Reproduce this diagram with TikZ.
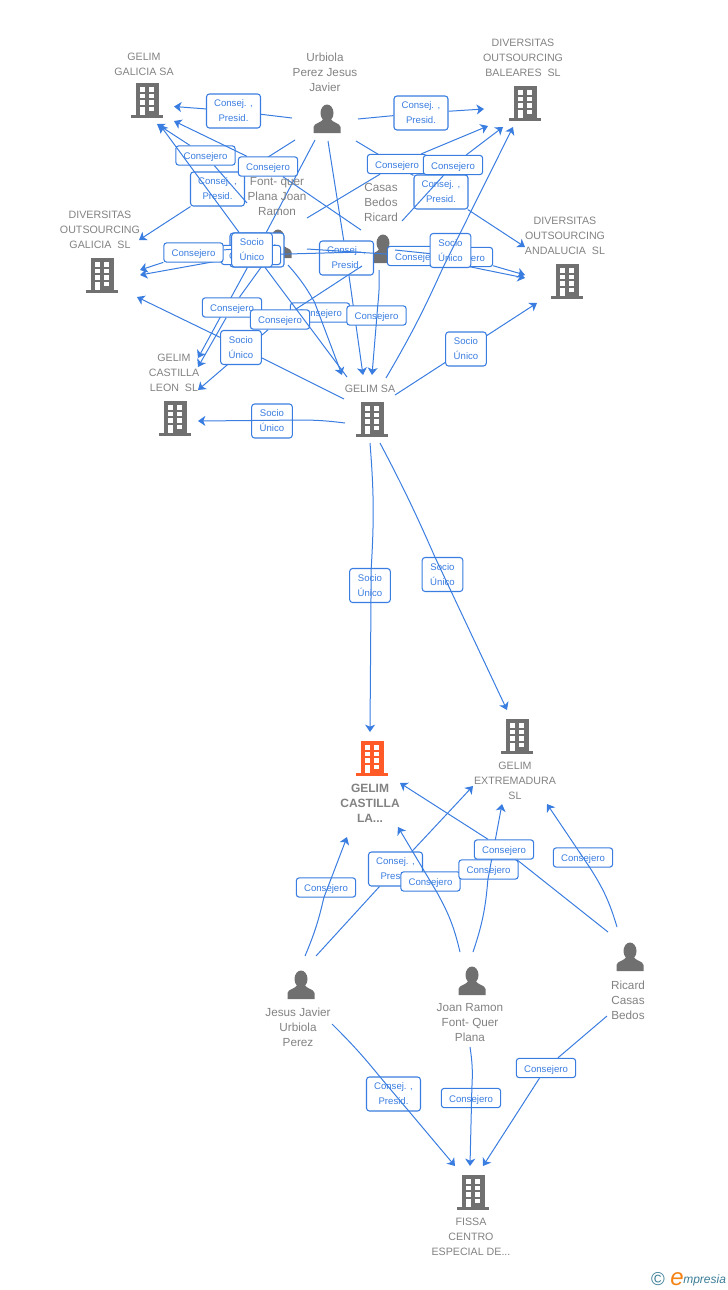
\documentclass[tikz,border=0pt]{standalone}
\usepackage{fontspec}
\setmainfont{Liberation Sans}
\usetikzlibrary{arrows.meta}
\definecolor{linkblue}{RGB}{58,125,224}
\definecolor{labgray}{RGB}{130,130,130}
\definecolor{icongray}{RGB}{112,112,112}
\definecolor{maincol}{RGB}{255,90,40}
\definecolor{logoteal}{RGB}{60,125,150}
\definecolor{logoorange}{RGB}{245,130,20}
\tikzset{
  bld/.pic = {
    \fill[pic actions] (-11.5,-17) rectangle (11.5,15.5);
    \fill[pic actions] (-16,15) rectangle (16,17.5);
    \foreach \wy in {-13,-6.5,0} {
      \fill[white] (-7.3,\wy) rectangle ++(5,4.5);
      \fill[white] (2.3,\wy) rectangle ++(5,4.5);
    }
    \fill[white] (-7.3,6.5) rectangle (-2.3,15);
    \fill[white] (2.3,6.5) rectangle (7.3,11);
  },
  person/.pic = {
    \fill[icongray] (0,-6) ellipse (6.5 and 8.5);
    \fill[icongray] (-13.5,14) -- (-13.5,8) .. controls (-13,4) and (-6,4) .. (-3.5,0)
      -- (3.5,0) .. controls (6,4) and (13,4) .. (13.5,8) -- (13.5,14) -- cycle;
  },
  conse/.style = {draw=linkblue, fill=white, line width=0.8pt, rounded corners=2.2pt,
    text=linkblue, align=center, inner sep=0pt, minimum width=44.5pt, minimum height=14.5pt,
    font=\fontsize{7.2}{11.25}\selectfont, execute at begin node={\rule{0pt}{7.5pt}}},
  presid/.style = {conse, minimum width=40.5pt, minimum height=25.5pt},
  socio/.style = {conse, minimum width=30.5pt, minimum height=25.5pt},
  rel/.style = {draw=linkblue, line width=0.75pt, -{Stealth[length=5.5pt,width=7.5pt,inset=1.5pt]}},
  comp/.style = {text=labgray, align=center, inner sep=0pt, yshift=-0.75pt,
    font=\fontsize{8}{11.25}\selectfont},
  pers/.style = {comp, font=\fontsize{8.8}{11.25}\selectfont},
  mainlab/.style = {comp, font=\bfseries\fontsize{9}{11.25}\selectfont}
}
\begin{document}
\begin{tikzpicture}[x=0.75pt,y=-0.75pt]
  \useasboundingbox (0,0) rectangle (728,1290);
  % icons
  \pic[fill=icongray] (galicia) at (147,100) {bld};
  \pic[fill=icongray] (baleares) at (525,103) {bld};
  \pic[fill=icongray] (divgal) at (102,275) {bld};
  \pic[fill=icongray] (andalucia) at (567,281) {bld};
  \pic[fill=icongray] (leon) at (175,418) {bld};
  \pic[fill=icongray] (gelimsa) at (372,419) {bld};
  \pic[fill=maincol] (mancha) at (372,758) {bld};
  \pic[fill=icongray] (extrem) at (517,736) {bld};
  \pic[fill=icongray] (fissa) at (473,1192) {bld};
  \pic (urbiola) at (327,119) {person};
  \pic (fontq) at (278,244) {person};
  \pic (casas) at (383,249) {person};
  \pic (jesus) at (301,985) {person};
  \pic (joan) at (472,981) {person};
  \pic (ricard) at (630,957) {person};

  % free ends of the links
  \coordinate (uA1) at (292,118); \coordinate (uB1) at (174,106.5);
  \coordinate (uA2) at (358,119); \coordinate (uB2) at (484,109);
  \coordinate (uA3) at (295,140); \coordinate (uB3) at (139,240);
  \coordinate (uA4) at (315,140); \coordinate (uB4) at (198,358);
  \coordinate (uA5) at (356,141); \coordinate (uB5) at (525,247);
  \coordinate (uA6) at (328,141); \coordinate (uB6) at (363,375);
  \coordinate (fA1) at (247,203); \coordinate (fB1) at (157,124);
  \coordinate (fA2) at (258,247); \coordinate (fB2) at (140,270);
  \coordinate (fA3) at (262,266); \coordinate (fB3) at (198,367);
  \coordinate (fA4) at (307,218); \coordinate (fB4) at (488,126);
  \coordinate (fA5) at (307,249); \coordinate (fB5) at (525,278);
  \coordinate (fA6) at (288,265); \coordinate (fB6) at (342,375);
  \coordinate (cA1) at (361,230); \coordinate (cB1) at (174,121);
  \coordinate (cA2) at (361,252); \coordinate (cB2) at (140,275);
  \coordinate (cA3) at (362,266); \coordinate (cB3) at (198,390);
  \coordinate (cA4) at (402,221); \coordinate (cB4) at (503,127);
  \coordinate (cA5) at (395,250); \coordinate (cB5) at (525,275);
  \coordinate (cA6) at (379,270); \coordinate (cB6) at (372,375);
  \coordinate (sA1) at (347,377); \coordinate (sB1) at (160,125);
  \coordinate (sA2) at (344,399); \coordinate (sB2) at (137,297);
  \coordinate (sA3) at (345,423); \coordinate (sB3) at (198,421);
  \coordinate (sA4) at (386,378); \coordinate (sB4) at (513,127);
  \coordinate (sA5) at (395,395); \coordinate (sB5) at (537,303);
  \coordinate (sA6) at (370,443); \coordinate (sB6) at (370,732);
  \coordinate (sA7) at (380,443); \coordinate (sB7) at (507,710);
  \coordinate (jA1) at (305,956); \coordinate (jB1) at (347,837);
  \coordinate (jA2) at (316,956); \coordinate (jB2) at (473,786);
  \coordinate (jA3) at (332,1024); \coordinate (jB3) at (455,1166);
  \coordinate (oA1) at (460,952); \coordinate (oB1) at (398,827);
  \coordinate (oA2) at (473,952); \coordinate (oB2) at (502,804);
  \coordinate (oA3) at (470,1047); \coordinate (oB3) at (470,1166);
  \coordinate (rA1) at (608,932); \coordinate (rB1) at (400,783);
  \coordinate (rA2) at (617,927); \coordinate (rB2) at (547,804);
  \coordinate (rA3) at (607,1016); \coordinate (rB3) at (483,1166);

  % Urbiola
  \node[presid] (ub1) at (233.5,111) {Consej. ,\\Presid.};
  \draw[rel] (uA1) -- (ub1) -- (uB1);
  \node[presid] (ub2) at (421,113) {Consej. ,\\Presid.};
  \draw[rel] (uA2) -- (ub2) -- (uB2);
  \node[presid] (ub3) at (217.5,189) {Consej. ,\\Presid.};
  \draw[rel] (uA3) -- (ub3) -- (uB3);
  \node[presid] (ub4) at (257,250) {Consej. ,\\Presid.};
  \draw[rel] (uA4) -- (ub4) -- (uB4);
  \node[presid] (ub5) at (441,192) {Consej. ,\\Presid.};
  \draw[rel] (uA5) -- (ub5) -- (uB5);
  \node[presid] (ub6) at (346.5,258) {Consej. ,\\Presid.};
  \draw[rel] (uA6) -- (ub6) -- (uB6);
  % Casas, to Diversitas Galicia
  \node[conse] (ca2) at (251,255) {Consejero};
  \draw[rel] (cA2) -- (ca2) -- (cB2);
  % Font- quer
  \node[conse] (fq1) at (205.5,155.5) {Consejero};
  \draw[rel] (fA1) -- (fq1) -- (fB1);
  \node[conse] (fq2) at (193.5,252.5) {Consejero};
  \draw[rel] (fA2) -- (fq2) -- (fB2);
  \node[conse] (fq3) at (232,307.5) {Consejero};
  \draw[rel] (fA3) -- (fq3) -- (fB3);
  \node[conse] (fq4) at (397,164) {Consejero};
  \draw[rel] (fA4) -- (fq4) -- (fB4);
  \node[conse] (fq5) at (417,256) {Consejero};
  \draw[rel] (fA5) -- (fq5) -- (fB5);
  \node[conse] (fq6) at (320,312.5) {Consejero};
  \draw[rel] (fA6) to[bend left=6] (fq6) -- (fB6);
  % Casas
  \node[conse] (ca1) at (268,166.5) {Consejero};
  \draw[rel] (cA1) -- (ca1) -- (cB1);
  \node[conse] (ca3) at (280,319.5) {Consejero};
  \draw[rel] (cA3) -- (ca3) -- (cB3);
  \node[conse] (ca4) at (453,165) {Consejero};
  \draw[rel] (cA4) -- (ca4) -- (cB4);
  \node[conse] (ca5) at (463,257) {Consejero};
  \draw[rel] (cA5) -- (ca5) -- (cB5);
  \node[conse] (ca6) at (376.5,315.5) {Consejero};
  \draw[rel] (cA6) to[bend left=4] (ca6) -- (cB6);
  % Gelim SA
  \node[socio] (sa1) at (252,250) {Socio\\Único};
  \draw[rel] (sA1) -- (sa1) -- (sB1);
  \node[socio] (sa2) at (241,347.5) {Socio\\Único};
  \draw[rel] (sA2) -- (sa2) -- (sB2);
  \node[socio] (sa3) at (272,421) {Socio\\Único};
  \draw[rel] (sA3) to[bend right=4] (sa3) -- (sB3);
  \node[socio] (sa4) at (450.5,250.5) {Socio\\Único};
  \draw[rel] (sA4) to[bend right=3] (sa4) -- (sB4);
  \node[socio] (sa5) at (466,349) {Socio\\Único};
  \draw[rel] (sA5) -- (sa5) -- (sB5);
  \node[socio] (sa6) at (370,585.5) {Socio\\Único};
  \draw[rel] (sA6) to[bend left=4] (sa6) -- (sB6);
  \node[socio] (sa7) at (442.5,574.5) {Socio\\Único};
  \draw[rel] (sA7) to[bend left=2] (sa7) -- (sB7);
  % Jesus
  \node[conse] (je1) at (326,887.5) {Consejero};
  \draw[rel] (jA1) to[bend right=5] (je1) -- (jB1);
  \node[presid] (je2) at (395.5,869) {Consej. ,\\Presid.};
  \draw[rel] (jA2) -- (je2) -- (jB2);
  \node[presid] (je3) at (393.5,1094) {Consej. ,\\Presid.};
  \draw[rel] (jA3) to[bend left=3] (je3) -- (jB3);
  % Joan
  \node[conse] (jo1) at (430.5,881.5) {Consejero};
  \draw[rel] (oA1) to[bend right=8] (jo1) -- (oB1);
  \node[conse] (jo2) at (488.5,869.5) {Consejero};
  \draw[rel] (oA2) to[bend right=7] (jo2) -- (oB2);
  \node[conse] (jo3) at (471,1098) {Consejero};
  \draw[rel] (oA3) to[bend left=6] (jo3) -- (oB3);
  % Ricard
  \node[conse] (ri1) at (504,849.5) {Consejero};
  \draw[rel] (rA1) -- (ri1) -- (rB1);
  \node[conse] (ri2) at (583,857.5) {Consejero};
  \draw[rel] (rA2) to[bend right=8] (ri2) -- (rB2);
  \node[conse] (ri3) at (546,1068) {Consejero};
  \draw[rel] (rA3) -- (ri3) -- (rB3);

  % labels
  \node[comp] (tgalicia) at (144,63) {GELIM\\GALICIA SA};
  \node[comp] (tbaleares) at (523,57) {DIVERSITAS\\OUTSOURCING\\BALEARES\ \ SL};
  \node[comp] (tdivgal) at (100,229) {DIVERSITAS\\OUTSOURCING\\GALICIA\ \ SL};
  \node[comp] (tandalucia) at (565,235) {DIVERSITAS\\OUTSOURCING\\ANDALUCIA\ \ SL};
  \node[comp] (tleon) at (174,372) {GELIM\\CASTILLA\\LEON\ \ SL};
  \node[comp] (tgelimsa) at (370,388) {GELIM SA};
  \node[mainlab] (tmancha) at (370,802) {GELIM\\CASTILLA\\LA...};
  \node[comp] (textrem) at (515,780) {GELIM\\EXTREMADURA\\SL};
  \node[comp] (tfissa) at (471,1236) {FISSA\\CENTRO\\ESPECIAL DE...};
  \node[pers] (turbiola) at (325,71) {Urbiola\\Perez Jesus\\Javier};
  \node[pers] (tfontq) at (277,196) {Font- quer\\Plana Joan\\Ramon};
  \node[pers] (tcasas) at (381,201) {Casas\\Bedos\\Ricard};
  \node[pers] (tjesus) at (298,1026) {Jesus Javier\\Urbiola\\Perez};
  \node[pers] (tjoan) at (470,1022) {Joan Ramon\\Font- Quer\\Plana};
  \node[pers] (tricard) at (628,999) {Ricard\\Casas\\Bedos};

  % logo
  \node[text=logoteal, inner sep=0pt, font=\fontsize{14}{14}\selectfont] (logoc) at (658,1279) {©};
  \node[text=logoteal, inner sep=0pt, anchor=base west, font=\itshape\fontsize{9}{10}\selectfont]
    (logot) at (683,1283) {mpresia};
  \node[text=logoorange, inner sep=0pt, anchor=base east, font=\itshape\fontsize{18}{18}\selectfont]
    (logoe) at (684,1285) {e};
\end{tikzpicture}
\end{document}
